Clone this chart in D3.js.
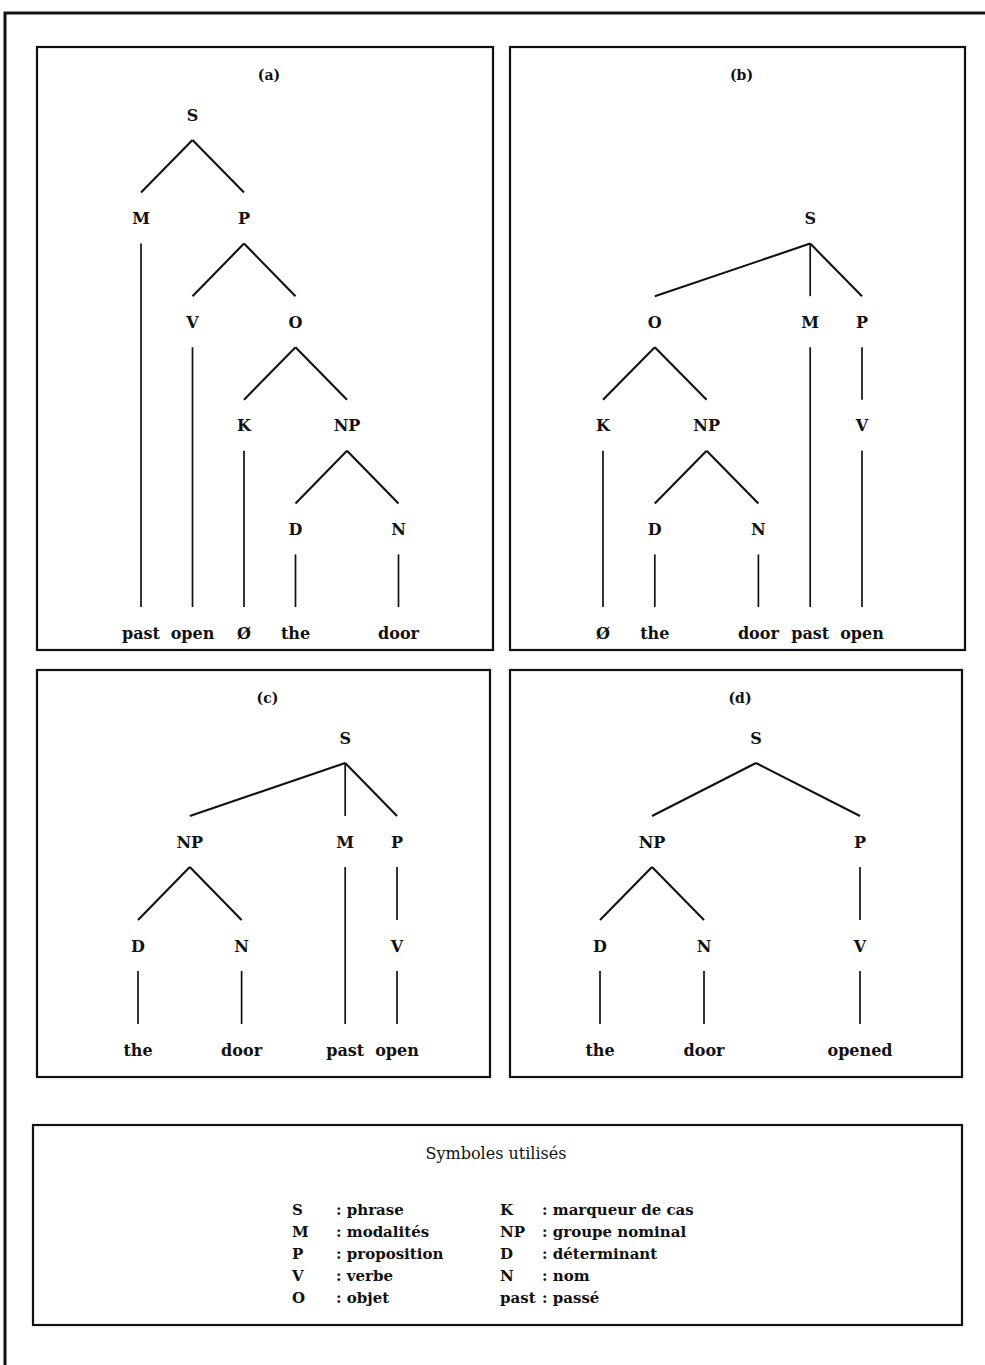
<!DOCTYPE html>
<html>
<head>
<meta charset="utf-8">
<script src="https://cdn.jsdelivr.net/npm/d3@7"></script>
<style>
  body { margin: 0; background: #fff; }
  svg { display: block; }
  text { font-family: "DejaVu Serif", "Liberation Serif", serif; fill: #111; }
</style>
</head>
<body>
<svg id="chart"></svg>
<script>
// tree nodes: label, column, level, parent id (null for root)
var treeA = [
  { id: 'S', label: 'S', col: 1, level: 0, parent: null },
  { id: 'M', label: 'M', col: 0, level: 1, parent: 'S' },
  { id: 'P', label: 'P', col: 2, level: 1, parent: 'S' },
  { id: 'V', label: 'V', col: 1, level: 2, parent: 'P' },
  { id: 'O', label: 'O', col: 3, level: 2, parent: 'P' },
  { id: 'K', label: 'K', col: 2, level: 3, parent: 'O' },
  { id: 'NP', label: 'NP', col: 4, level: 3, parent: 'O' },
  { id: 'D', label: 'D', col: 3, level: 4, parent: 'NP' },
  { id: 'N', label: 'N', col: 5, level: 4, parent: 'NP' },
  { id: 'past', label: 'past', col: 0, level: 5, parent: 'M' },
  { id: 'open', label: 'open', col: 1, level: 5, parent: 'V' },
  { id: 'zero', label: 'Ø', col: 2, level: 5, parent: 'K' },
  { id: 'the', label: 'the', col: 3, level: 5, parent: 'D' },
  { id: 'door', label: 'door', col: 5, level: 5, parent: 'N' }
];

var treeB = [
  { id: 'S', label: 'S', col: 4, level: 1, parent: null },
  { id: 'O', label: 'O', col: 1, level: 2, parent: 'S' },
  { id: 'M', label: 'M', col: 4, level: 2, parent: 'S' },
  { id: 'P', label: 'P', col: 5, level: 2, parent: 'S' },
  { id: 'K', label: 'K', col: 0, level: 3, parent: 'O' },
  { id: 'NP', label: 'NP', col: 2, level: 3, parent: 'O' },
  { id: 'V', label: 'V', col: 5, level: 3, parent: 'P' },
  { id: 'D', label: 'D', col: 1, level: 4, parent: 'NP' },
  { id: 'N', label: 'N', col: 3, level: 4, parent: 'NP' },
  { id: 'zero', label: 'Ø', col: 0, level: 5, parent: 'K' },
  { id: 'the', label: 'the', col: 1, level: 5, parent: 'D' },
  { id: 'door', label: 'door', col: 3, level: 5, parent: 'N' },
  { id: 'past', label: 'past', col: 4, level: 5, parent: 'M' },
  { id: 'open', label: 'open', col: 5, level: 5, parent: 'V' }
];

var treeC = [
  { id: 'S', label: 'S', col: 4, level: 0, parent: null },
  { id: 'NP', label: 'NP', col: 1, level: 1, parent: 'S' },
  { id: 'M', label: 'M', col: 4, level: 1, parent: 'S' },
  { id: 'P', label: 'P', col: 5, level: 1, parent: 'S' },
  { id: 'D', label: 'D', col: 0, level: 2, parent: 'NP' },
  { id: 'N', label: 'N', col: 2, level: 2, parent: 'NP' },
  { id: 'V', label: 'V', col: 5, level: 2, parent: 'P' },
  { id: 'the', label: 'the', col: 0, level: 3, parent: 'D' },
  { id: 'door', label: 'door', col: 2, level: 3, parent: 'N' },
  { id: 'past', label: 'past', col: 4, level: 3, parent: 'M' },
  { id: 'open', label: 'open', col: 5, level: 3, parent: 'V' }
];

var treeD = [
  { id: 'S', label: 'S', col: 3, level: 0, parent: null },
  { id: 'NP', label: 'NP', col: 1, level: 1, parent: 'S' },
  { id: 'P', label: 'P', col: 5, level: 1, parent: 'S' },
  { id: 'D', label: 'D', col: 0, level: 2, parent: 'NP' },
  { id: 'N', label: 'N', col: 2, level: 2, parent: 'NP' },
  { id: 'V', label: 'V', col: 5, level: 2, parent: 'P' },
  { id: 'the', label: 'the', col: 0, level: 3, parent: 'D' },
  { id: 'door', label: 'door', col: 2, level: 3, parent: 'N' },
  { id: 'opened', label: 'opened', col: 5, level: 3, parent: 'V' }
];

var panelTitles = ['(a)', '(b)', '(c)', '(d)'];

// legend
var legendTitle = 'Symboles utilisés';
var legendSymbolsLeft = ['S', 'M', 'P', 'V', 'O'];
var legendNamesLeft = [': phrase', ': modalités', ': proposition', ': verbe', ': objet'];
var legendSymbolsRight = ['K', 'NP', 'D', 'N', 'past'];
var legendNamesRight = [': marqueur de cas', ': groupe nominal', ': déterminant', ': nom', ': passé'];

var svgWidth = 985;
var svgHeight = 1365;

var svg = d3.select('#chart')
  .attr('width', svgWidth)
  .attr('height', svgHeight);

// ======================= //
// ***** OUTER FRAME ***** //
// ======================= //

svg.append('path')
  .attr('d', 'M5,' + svgHeight + ' L5,13 L' + svgWidth + ',13')
  .attr('fill', 'none')
  .attr('stroke', '#111')
  .attr('stroke-width', 3);

// panel boxes + tree layout settings
var panels = [
  { tree: treeA, box: [37, 47, 493, 650], x0: 141, colStep: 51.5, y0: 115, levelStep: 103.6, levels: 6, titleY: 75 },
  { tree: treeB, box: [510, 47, 965, 650], x0: 603, colStep: 51.8, y0: 115, levelStep: 103.6, levels: 6, titleY: 75 },
  { tree: treeC, box: [37, 670, 490, 1077], x0: 138, colStep: 51.8, y0: 738, levelStep: 104, levels: 4, titleY: 698 },
  { tree: treeD, box: [510, 670, 962, 1077], x0: 600, colStep: 52, y0: 738, levelStep: 104, levels: 4, titleY: 698 }
];

panels.forEach(function (p, i) {
  var g = svg.append('g');

  var b = p.box;
  g.append('rect')
    .attr('x', b[0])
    .attr('y', b[1])
    .attr('width', b[2] - b[0])
    .attr('height', b[3] - b[1])
    .attr('fill', 'none')
    .attr('stroke', '#111')
    .attr('stroke-width', 2.2);

  g.append('text')
    .attr('x', (b[0] + b[2]) / 2 + 4)
    .attr('y', p.titleY)
    .attr('dy', '0.35em')
    .style('text-anchor', 'middle')
    .style('font-size', '14px')
    .style('font-weight', 'bold')
    .text(panelTitles[i]);

  // scales for columns and levels
  var xScale = d3.scaleLinear()
    .domain([0, 5])
    .range([p.x0, p.x0 + 5 * p.colStep]);

  var yScale = d3.scaleLinear()
    .domain([0, p.levels - 1])
    .range([p.y0, p.y0 + (p.levels - 1) * p.levelStep]);

  var byId = {};
  p.tree.forEach(function (d) { byId[d.id] = d; });

  var links = p.tree.filter(function (d) { return d.parent !== null; });

  // edges
  g.selectAll('line.edge')
    .data(links)
    .enter()
    .append('line')
    .attr('class', 'edge')
    .attr('x1', function (d) { return xScale(byId[d.parent].col); })
    .attr('y1', function (d) { return yScale(byId[d.parent].level) + 25; })
    .attr('x2', function (d) { return xScale(d.col); })
    .attr('y2', function (d) { return yScale(d.level) - 26; })
    .attr('stroke', '#111')
    .attr('stroke-width', function (d) {
      return byId[d.parent].col === d.col ? 1.7 : 2.1;
    });

  // node labels
  g.selectAll('text.node')
    .data(p.tree)
    .enter()
    .append('text')
    .attr('class', 'node')
    .attr('x', function (d) { return xScale(d.col); })
    .attr('y', function (d) { return yScale(d.level); })
    .attr('dy', '0.35em')
    .style('text-anchor', 'middle')
    .style('font-size', '16px')
    .style('font-weight', 'bold')
    .text(function (d) { return d.label; });
});

// ================== //
// ***** LEGEND ***** //
// ================== //

svg.append('rect')
  .attr('x', 33)
  .attr('y', 1125)
  .attr('width', 962 - 33)
  .attr('height', 1325 - 1125)
  .attr('fill', 'none')
  .attr('stroke', '#111')
  .attr('stroke-width', 2.2);

svg.append('text')
  .attr('x', 496)
  .attr('y', 1153)
  .attr('dy', '0.35em')
  .style('text-anchor', 'middle')
  .style('font-size', '16px')
  .text(legendTitle);

var rowScale = d3.scaleLinear()
  .domain([0, 4])
  .range([1210, 1298]);

var legendCols = [
  { syms: legendSymbolsLeft, names: legendNamesLeft, sx: 292, nx: 336 },
  { syms: legendSymbolsRight, names: legendNamesRight, sx: 500, nx: 542 }
];

legendCols.forEach(function (c) {
  svg.selectAll(null)
    .data(c.syms)
    .enter()
    .append('text')
    .attr('x', c.sx)
    .attr('y', function (d, i) { return rowScale(i); })
    .attr('dy', '0.35em')
    .style('font-size', '15px')
    .style('font-weight', 'bold')
    .text(function (d) { return d; });

  svg.selectAll(null)
    .data(c.names)
    .enter()
    .append('text')
    .attr('x', c.nx)
    .attr('y', function (d, i) { return rowScale(i); })
    .attr('dy', '0.35em')
    .style('font-size', '15px')
    .style('font-weight', 'bold')
    .text(function (d) { return d; });
});
</script>
</body>
</html>
